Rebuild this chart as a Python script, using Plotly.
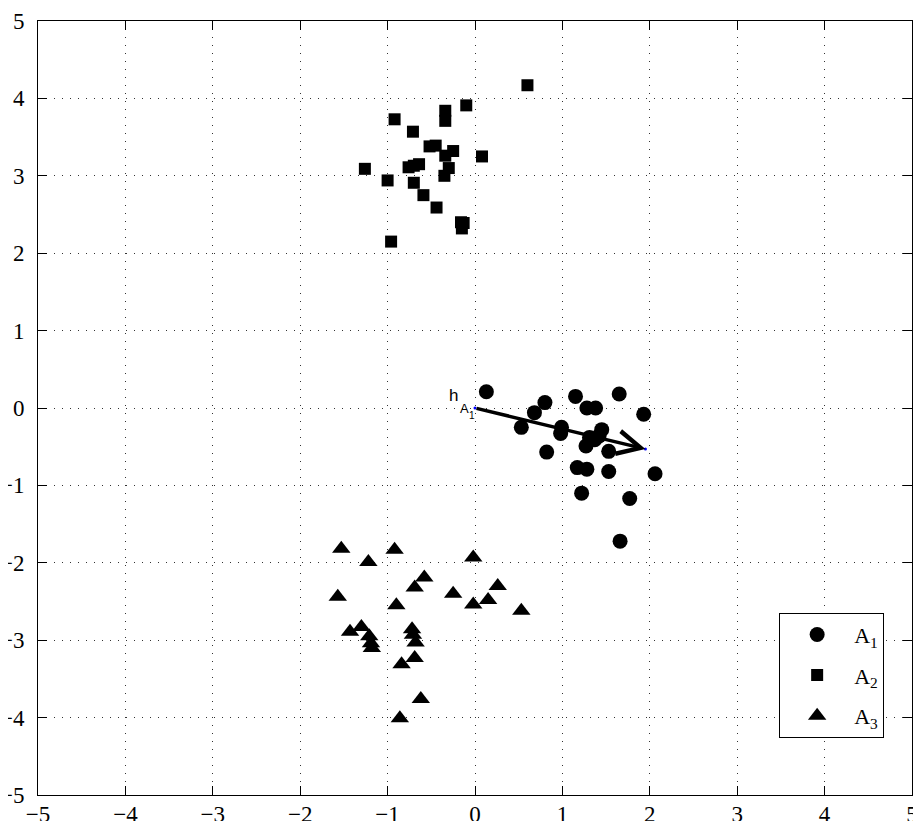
import plotly.graph_objects as go

# Class A1 (circles)
a1_x = [0.13, 1.15, 1.65, 0.80, 1.28, 1.38, 0.68, 1.93, 0.53, 0.99, 0.98, 1.45, 1.31,
        1.37, 1.27, 1.53, 0.82, 1.17, 1.28, 1.53, 2.06, 1.22, 1.77, 1.66, 1.42]
a1_y = [0.21, 0.15, 0.18, 0.07, 0.00, 0.00, -0.06, -0.08, -0.25, -0.25, -0.33, -0.28, -0.38,
        -0.41, -0.49, -0.56, -0.57, -0.77, -0.79, -0.82, -0.85, -1.10, -1.17, -1.72, -0.36]

# Class A2 (squares)
a2_x = [0.60, -0.10, -0.34, -0.34, -0.92, -0.71, -0.52, -0.45, -0.25, -0.34, 0.08, -0.30, -0.64,
        -0.70, -0.76, -1.26, -0.35, -1.00, -0.70, -0.59, -0.44, -0.16, -0.13, -0.15, -0.96]
a2_y = [4.17, 3.91, 3.84, 3.71, 3.73, 3.57, 3.38, 3.39, 3.32, 3.26, 3.25, 3.10, 3.15,
        3.13, 3.11, 3.09, 3.00, 2.94, 2.91, 2.75, 2.59, 2.40, 2.39, 2.32, 2.15]

# Class A3 (triangles)
a3_x = [-1.53, -0.92, -0.02, -1.22, -0.58, -0.69, 0.26, -1.57, -0.25, 0.15, -0.02, -0.90, 0.53,
        -1.43, -1.30, -1.21, -1.19, -1.18, -0.72, -0.71, -0.68, -0.69, -0.84, -0.62, -0.86]
a3_y = [-1.82, -1.83, -1.93, -1.99, -2.19, -2.32, -2.30, -2.44, -2.40, -2.48, -2.54, -2.55, -2.62,
        -2.89, -2.83, -2.95, -3.04, -3.10, -2.86, -2.93, -3.03, -3.23, -3.31, -3.76, -4.01]

# Arrow h_A1
arrow_start = [0.0, 0.0]
arrow_end = [1.95, -0.53]

ticks = [-5, -4, -3, -2, -1, 0, 1, 2, 3, 4, 5]
legend_names = ["A<sub>1</sub>", "A<sub>2</sub>", "A<sub>3</sub>"]

fig = go.Figure()
fig.add_trace(go.Scatter(x=a1_x, y=a1_y, mode="markers", name=legend_names[0], legendgroup="g1",
                         marker=dict(symbol="circle", size=15, color="black")))
fig.add_trace(go.Scatter(x=a2_x, y=a2_y, mode="markers", name=legend_names[1], legendgroup="g2",
                         marker=dict(symbol="square", size=12, color="black")))
fig.add_trace(go.Scatter(x=a3_x, y=a3_y, mode="markers", name=legend_names[2], legendgroup="g3",
                         marker=dict(symbol="triangle-up", size=16, color="black")))
fig.add_trace(go.Scatter(x=[arrow_start[0], arrow_end[0]], y=[arrow_start[1], arrow_end[1]],
                         mode="markers", showlegend=False,
                         marker=dict(size=3, color="blue")))

fig.add_annotation(x=arrow_end[0], y=arrow_end[1], ax=arrow_start[0], ay=arrow_start[1],
                   xref="x", yref="y", axref="x", ayref="y", text="",
                   showarrow=True, arrowhead=5, arrowsize=1.3, arrowwidth=3.5,
                   arrowcolor="black")
lab_font = "Liberation Sans"
fig.add_annotation(x=arrow_start[0], y=arrow_start[1], xref="x", yref="y", text="h",
                   showarrow=False, xanchor="center", yanchor="middle",
                   xshift=-22, yshift=13, font=dict(family=lab_font, size=17, color="black"))
fig.add_annotation(x=arrow_start[0], y=arrow_start[1], xref="x", yref="y", text="A",
                   showarrow=False, xanchor="center", yanchor="middle",
                   xshift=-11, yshift=0, font=dict(family=lab_font, size=13, color="black"))
fig.add_annotation(x=arrow_start[0], y=arrow_start[1], xref="x", yref="y", text="1",
                   showarrow=False, xanchor="center", yanchor="middle",
                   xshift=-3, yshift=-7, font=dict(family=lab_font, size=10, color="black"))

serif = "Liberation Serif, Times New Roman, serif"
tick_font = dict(family=serif, size=23, color="black")
xaxis = dict(range=[-5, 5], tickvals=ticks, showgrid=True, gridcolor="#333333",
             griddash="1px,7px", gridwidth=1, zeroline=False, showline=True,
             linecolor="black", linewidth=1, mirror="ticks", ticks="inside",
             ticklen=9, tickcolor="black", tickfont=tick_font, automargin=False,
             ticklabelstandoff=-2)
yaxis = dict(xaxis)
yaxis["ticklabelstandoff"] = 8

fig.update_layout(
    width=913, height=813,
    margin=dict(l=30, r=9, t=13, b=26),
    paper_bgcolor="white", plot_bgcolor="white",
    font=dict(family=serif, size=22, color="black"),
    xaxis=xaxis, yaxis=yaxis,
    legend=dict(x=0.848, y=0.074, xanchor="left", yanchor="bottom",
                bordercolor="black", borderwidth=1, bgcolor="white",
                font=dict(family=serif, size=22, color="black"),
                itemsizing="trace", tracegroupgap=9, itemwidth=64),
    showlegend=True,
)

fig.write_html("out.html")
